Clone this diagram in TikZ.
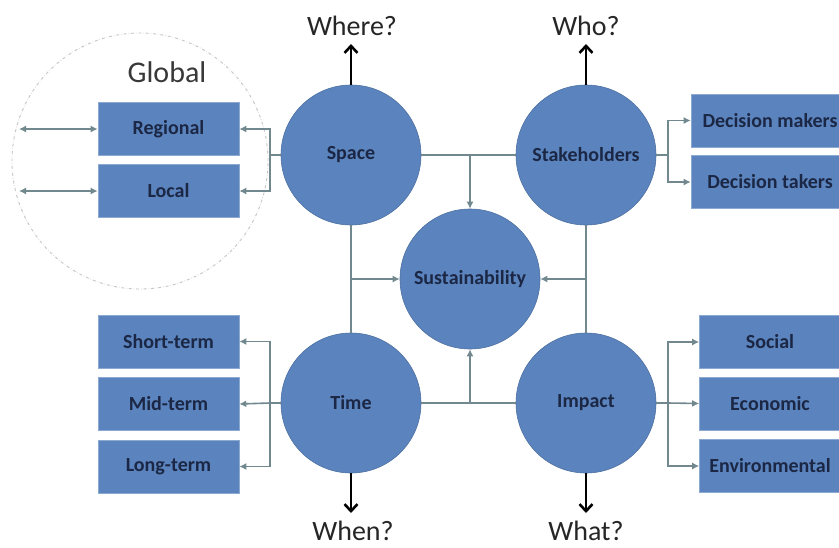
\documentclass[tikz,border=0pt]{standalone}
\usepackage{fontspec}
\setmainfont{Carlito}
\usetikzlibrary{arrows.meta}
\definecolor{cblue}{HTML}{5B84BE}
\definecolor{ctext}{HTML}{1B2744}
\definecolor{cline}{HTML}{72888F}
\definecolor{qtext}{HTML}{262626}
\begin{document}
\begin{tikzpicture}[x=1pt,y=-1pt,
  circ/.style={circle, fill=cblue, draw=cblue!85!black, line width=0.6pt, minimum size=140pt, inner sep=0pt,
    font=\fontsize{20}{22}\selectfont\bfseries, text=ctext},
  lbox/.style={rectangle, fill=cblue, draw=cblue!70!white, line width=0.6pt, minimum width=141pt, minimum height=53pt, inner sep=0pt,
    font=\fontsize{20}{22}\selectfont\bfseries, text=ctext},
  conn/.style={draw=cline, line width=1.6pt},
  tip/.tip={Latex[length=7pt,width=7pt]},
  big/.style={draw=black, line width=2.6pt, -{Straight Barb[length=7pt,width=13pt]}},
  qlabel/.style={font=\fontsize{28}{30}\selectfont, text=qtext, inner sep=1pt}]
\clip (0,0) rectangle (839,547);
\fill[white] (0,0) rectangle (839,547);

% global dashed circle
\draw[gray!45, dash dot, line width=0.9pt] (140,161) circle[radius=128pt];
\node[qlabel, font=\fontsize{30}{32}\selectfont, text=black!78] (global) at (167,72) {Global};

% circles
\node[circ] (space) at (351,155) {Space};
\node[circ] (stake) at (586,155) {Stakeholders};
\node[circ] (sust) at (470,279) {Sustainability};
\node[circ] (time) at (351,403) {Time};
\node[circ] (impact) at (586,403) {Impact};

% left boxes
\node[lbox] (regional) at (168.5,129) {Regional};
\node[lbox] (local) at (168.5,191) {Local};
\node[lbox] (short) at (168.5,341.5) {Short-term};
\node[lbox] (mid) at (168.5,404) {Mid-term};
\node[lbox] (long) at (168.5,466.5) {Long-term};

% right boxes
\node[lbox, minimum width=158pt] (dm) at (770,120.5) {Decision makers};
\node[lbox, minimum width=158pt] (dt) at (770,182) {Decision takers};
\node[lbox] (social) at (770,342) {Social};
\node[lbox] (econ) at (770,403.5) {Economic};
\node[lbox] (env) at (770,466) {Environmental};

% question labels
\node[qlabel] (where) at (352,26) {Where?};
\node[qlabel] (who) at (586,26) {Who?};
\node[qlabel] (when) at (353,531) {When?};
\node[qlabel] (what) at (586,531) {What?};

% arrow tips of the question arrows
\coordinate (wheretip) at (351,44);
\coordinate (whotip) at (586,44);
\coordinate (whentip) at (351,513);
\coordinate (whattip) at (586,513);

% big arrows
\draw[big] (space.north) -- (wheretip);
\draw[big] (stake.north) -- (whotip);
\draw[big] (time.south) -- (whentip);
\draw[big] (impact.south) -- (whattip);

% junction coordinates
\coordinate (sj) at (270,155);
\coordinate (kj) at (668,155);
\coordinate (tj) at (270,403);
\coordinate (ij) at (668,403);
\coordinate (gl) at (19,0);

% space branch
\draw[conn] (space.west) -- (sj);
\draw[conn,-tip] (sj) |- (regional.east);
\draw[conn,-tip] (sj) |- (local.east);
\draw[conn,tip-tip] (gl |- regional.west) -- (regional.west);
\draw[conn,tip-tip] (gl |- local.west) -- (local.west);

% stakeholders branch
\draw[conn] (stake.east) -- (kj);
\draw[conn,-tip] (kj) |- (dm.west);
\draw[conn,-tip] (kj) |- (dt.west);

% time branch
\draw[conn] (time.west) -- (tj);
\draw[conn,-tip] (tj) |- (short.east);
\draw[conn,-tip] (tj) -- (mid.east);
\draw[conn,-tip] (tj) |- (long.east);

% impact branch
\draw[conn] (impact.east) -- (ij);
\draw[conn,-tip] (ij) |- (social.west);
\draw[conn,-tip] (ij) -- (econ.west);
\draw[conn,-tip] (ij) |- (env.west);

% square frame around sustainability
\draw[conn] (space.east) -- (stake.west);
\draw[conn] (time.east) -- (impact.west);
\draw[conn] (space.south) -- (time.north);
\draw[conn] (stake.south) -- (impact.north);
\draw[conn,-tip] (sust.north |- space.east) -- (sust.north);
\draw[conn,-tip] (sust.south |- time.east) -- (sust.south);
\draw[conn,-tip] (space.south |- sust.west) -- (sust.west);
\draw[conn,-tip] (stake.south |- sust.east) -- (sust.east);
\end{tikzpicture}
\end{document}
